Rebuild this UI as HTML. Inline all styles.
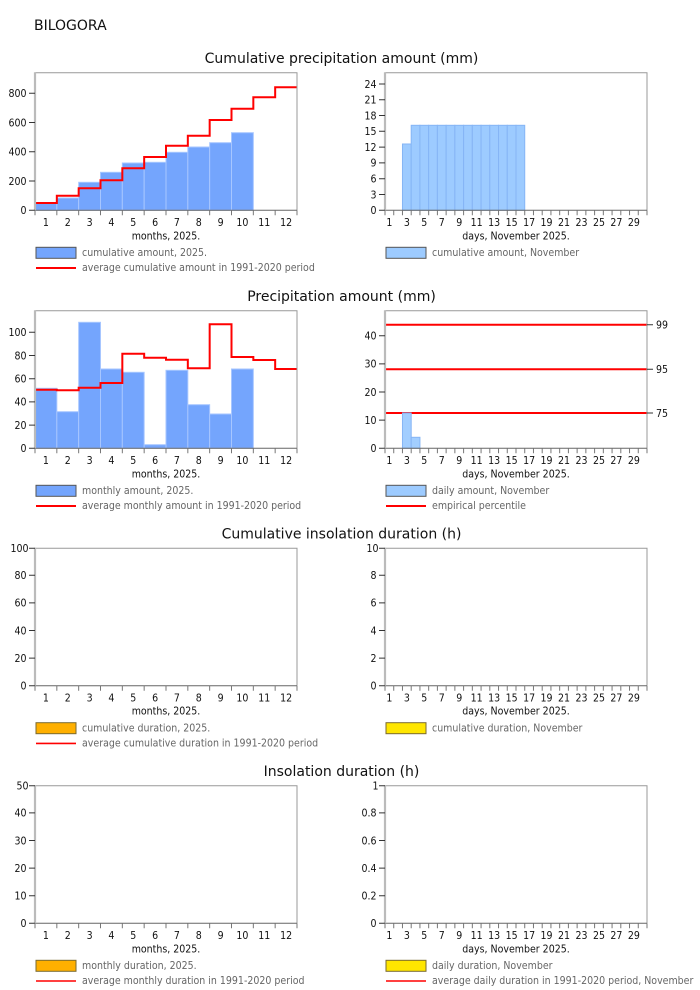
<!DOCTYPE html>
<html><head><meta charset="utf-8">
<style>
html,body{margin:0;padding:0;background:#fff}
svg{display:block}
.t{font-family:"DejaVu Sans","Liberation Sans",sans-serif;font-size:14px;fill:#111}
.s{font-family:"DejaVu Sans","Liberation Sans",sans-serif;font-stretch:condensed;font-size:10.5px;fill:#111}
.l{font-family:"DejaVu Sans","Liberation Sans",sans-serif;font-stretch:condensed;font-size:10.5px;fill:#666}
.e{text-anchor:end}
.c{text-anchor:middle}
</style></head><body>
<svg width="700" height="990" viewBox="0 0 700 990" xmlns="http://www.w3.org/2000/svg">
<rect width="700" height="990" fill="#fff"/>
<text class="t" x="34" y="30">BILOGORA</text>

<!-- ROW 1 -->
<text class="t c" x="341.5" y="63">Cumulative precipitation amount (mm)</text>
<g transform="translate(35,72.3)">
  <g fill="#74a5fd" stroke="#a7c6ff" stroke-width="1">
    <rect x="0" y="131" width="21.83" height="7"/>
    <rect x="21.83" y="125.7" width="21.83" height="12.3"/>
    <rect x="43.67" y="110" width="21.83" height="28"/>
    <rect x="65.5" y="100" width="21.83" height="38"/>
    <rect x="87.33" y="90.7" width="21.83" height="47.3"/>
    <rect x="109.17" y="90" width="21.83" height="48"/>
    <rect x="131" y="80" width="21.83" height="58"/>
    <rect x="152.83" y="74.7" width="21.83" height="63.3"/>
    <rect x="174.67" y="70.4" width="21.83" height="67.6"/>
    <rect x="196.5" y="60.4" width="21.83" height="77.6"/>
  </g>
  <path d="M0,130.7H21.83V123.4H43.67V116H65.5V108H87.33V96H109.17V84.7H131V73.4H152.83V63.4H174.67V47.7H196.5V36.4H218.33V25H240.17V15H262" fill="none" stroke="#f00" stroke-width="2"/>
  <path d="M0,0.5H262V138" fill="none" stroke="#999"/>
  <path d="M0,138H262" stroke="#666"/>
  <path d="M0,0V138" stroke="#bbb" stroke-width="2.2"/>
  <path d="M-6,138H0M-6,108.75H0M-6,79.5H0M-6,50.25H0M-6,21H0" stroke="#333"/>
  <path d="M0,138v5m21.833,-5v5m21.833,-5v5m21.833,-5v5m21.833,-5v5m21.833,-5v5m21.833,-5v5m21.833,-5v5m21.833,-5v5m21.833,-5v5m21.833,-5v5m21.833,-5v5m21.833,-5v5" stroke="#777"/>
  <text class="s e" x="-8.5" y="141.8">0</text>
  <text class="s e" x="-8.5" y="112.55">200</text>
  <text class="s e" x="-8.5" y="83.3">400</text>
  <text class="s e" x="-8.5" y="54.05">600</text>
  <text class="s e" x="-8.5" y="24.8">800</text>
  <g class="s c">
    <text x="10.92" y="153.7">1</text><text x="32.75" y="153.7">2</text><text x="54.58" y="153.7">3</text><text x="76.42" y="153.7">4</text><text x="98.25" y="153.7">5</text><text x="120.08" y="153.7">6</text><text x="141.92" y="153.7">7</text><text x="163.75" y="153.7">8</text><text x="185.58" y="153.7">9</text><text x="207.42" y="153.7">10</text><text x="229.25" y="153.7">11</text><text x="251.08" y="153.7">12</text>
  </g>
  <text class="s c" x="131" y="167">months, 2025.</text>
  <rect x="1" y="175" width="40" height="11" fill="#74a5fd" stroke="#555"/>
  <text class="l" x="47" y="183.7">cumulative amount, 2025.</text>
  <path d="M1,195.7H41" stroke="#f00" stroke-width="2"/>
  <text class="l" x="47" y="198.7">average cumulative amount in 1991-2020 period</text>
</g>

<g transform="translate(385,72.3)">
  <g fill="#9dcbff" stroke="#86b5f5" stroke-width="1">
    <rect x="17.47" y="71.7" width="8.73" height="66.3"/>
    <rect x="26.2" y="53" width="8.73" height="85"/>
    <rect x="34.93" y="53" width="8.73" height="85"/>
    <rect x="43.67" y="53" width="8.73" height="85"/>
    <rect x="52.4" y="53" width="8.73" height="85"/>
    <rect x="61.13" y="53" width="8.73" height="85"/>
    <rect x="69.87" y="53" width="8.73" height="85"/>
    <rect x="78.6" y="53" width="8.73" height="85"/>
    <rect x="87.33" y="53" width="8.73" height="85"/>
    <rect x="96.07" y="53" width="8.73" height="85"/>
    <rect x="104.8" y="53" width="8.73" height="85"/>
    <rect x="113.53" y="53" width="8.73" height="85"/>
    <rect x="122.27" y="53" width="8.73" height="85"/>
    <rect x="131" y="53" width="8.73" height="85"/>
  </g>
  <path d="M0,0.5H262V138" fill="none" stroke="#999"/>
  <path d="M0,138H262" stroke="#666"/>
  <path d="M0,0V138" stroke="#bbb" stroke-width="2.2"/>
  <path d="M-6,138H0M-6,122.2H0M-6,106.4H0M-6,90.6H0M-6,74.8H0M-6,59H0M-6,43.2H0M-6,27.5H0M-6,11.7H0" stroke="#333"/>
  <path d="M0,138v5m8.7333,-5v5m8.7333,-5v5m8.7333,-5v5m8.7333,-5v5m8.7333,-5v5m8.7333,-5v5m8.7333,-5v5m8.7333,-5v5m8.7333,-5v5m8.7333,-5v5m8.7333,-5v5m8.7333,-5v5m8.7333,-5v5m8.7333,-5v5m8.7333,-5v5m8.7333,-5v5m8.7333,-5v5m8.7333,-5v5m8.7333,-5v5m8.7333,-5v5m8.7333,-5v5m8.7333,-5v5m8.7333,-5v5m8.7333,-5v5m8.7333,-5v5m8.7333,-5v5m8.7333,-5v5m8.7333,-5v5m8.7333,-5v5m8.7333,-5v5" stroke="#777"/>
  <text class="s e" x="-8.5" y="141.8">0</text>
  <text class="s e" x="-8.5" y="126">3</text>
  <text class="s e" x="-8.5" y="110.2">6</text>
  <text class="s e" x="-8.5" y="94.4">9</text>
  <text class="s e" x="-8.5" y="78.6">12</text>
  <text class="s e" x="-8.5" y="62.8">15</text>
  <text class="s e" x="-8.5" y="47">18</text>
  <text class="s e" x="-8.5" y="31.3">21</text>
  <text class="s e" x="-8.5" y="15.5">24</text>
  <g class="s c">
    <text x="4.37" y="153.7">1</text><text x="21.83" y="153.7">3</text><text x="39.3" y="153.7">5</text><text x="56.77" y="153.7">7</text><text x="74.23" y="153.7">9</text><text x="91.7" y="153.7">11</text><text x="109.17" y="153.7">13</text><text x="126.63" y="153.7">15</text><text x="144.1" y="153.7">17</text><text x="161.57" y="153.7">19</text><text x="179.03" y="153.7">21</text><text x="196.5" y="153.7">23</text><text x="213.97" y="153.7">25</text><text x="231.43" y="153.7">27</text><text x="248.9" y="153.7">29</text>
  </g>
  <text class="s c" x="131" y="167">days, November 2025.</text>
  <rect x="1" y="175" width="40" height="11" fill="#9dcbff" stroke="#555"/>
  <text class="l" x="47" y="183.7">cumulative amount, November</text>
</g>

<!-- ROW 2 -->
<text class="t c" x="341.5" y="301">Precipitation amount (mm)</text>
<g transform="translate(35,310.3)">
  <g fill="#74a5fd" stroke="#a7c6ff" stroke-width="1">
    <rect x="0" y="78" width="21.83" height="60"/>
    <rect x="21.83" y="101.4" width="21.83" height="36.6"/>
    <rect x="43.67" y="12" width="21.83" height="126"/>
    <rect x="65.5" y="58.7" width="21.83" height="79.3"/>
    <rect x="87.33" y="62" width="21.83" height="76"/>
    <rect x="109.17" y="134.4" width="21.83" height="3.6"/>
    <rect x="131" y="60" width="21.83" height="78"/>
    <rect x="152.83" y="94.4" width="21.83" height="43.6"/>
    <rect x="174.67" y="103.7" width="21.83" height="34.3"/>
    <rect x="196.5" y="58.7" width="21.83" height="79.3"/>
  </g>
  <path d="M0,79.4H21.83V80H43.67V77.4H65.5V72.7H87.33V43.4H109.17V47.4H131V49.4H152.83V58H174.67V14H196.5V46.7H218.33V49.7H240.17V58.7H262" fill="none" stroke="#f00" stroke-width="2"/>
  <path d="M0,0.5H262V138" fill="none" stroke="#999"/>
  <path d="M0,138H262" stroke="#666"/>
  <path d="M0,0V138" stroke="#bbb" stroke-width="2.2"/>
  <path d="M-6,138H0M-6,114.8H0M-6,91.6H0M-6,68.4H0M-6,45.2H0M-6,22H0" stroke="#333"/>
  <path d="M0,138v5m21.833,-5v5m21.833,-5v5m21.833,-5v5m21.833,-5v5m21.833,-5v5m21.833,-5v5m21.833,-5v5m21.833,-5v5m21.833,-5v5m21.833,-5v5m21.833,-5v5m21.833,-5v5" stroke="#777"/>
  <text class="s e" x="-8.5" y="141.8">0</text>
  <text class="s e" x="-8.5" y="118.6">20</text>
  <text class="s e" x="-8.5" y="95.4">40</text>
  <text class="s e" x="-8.5" y="72.2">60</text>
  <text class="s e" x="-8.5" y="49">80</text>
  <text class="s e" x="-8.5" y="25.8">100</text>
  <g class="s c">
    <text x="10.92" y="153.7">1</text><text x="32.75" y="153.7">2</text><text x="54.58" y="153.7">3</text><text x="76.42" y="153.7">4</text><text x="98.25" y="153.7">5</text><text x="120.08" y="153.7">6</text><text x="141.92" y="153.7">7</text><text x="163.75" y="153.7">8</text><text x="185.58" y="153.7">9</text><text x="207.42" y="153.7">10</text><text x="229.25" y="153.7">11</text><text x="251.08" y="153.7">12</text>
  </g>
  <text class="s c" x="131" y="167">months, 2025.</text>
  <rect x="1" y="175" width="40" height="11" fill="#74a5fd" stroke="#555"/>
  <text class="l" x="47" y="183.7">monthly amount, 2025.</text>
  <path d="M1,195.7H41" stroke="#f00" stroke-width="2"/>
  <text class="l" x="47" y="198.7">average monthly amount in 1991-2020 period</text>
</g>

<g transform="translate(385,310.3)">
  <path d="M0,14.4H262M0,59H262M0,102.7H262" stroke="#f00" stroke-width="2"/>
  <g fill="#9dcbff" stroke="#86b5f5" stroke-width="1" fill-opacity="0.95">
    <rect x="17.47" y="102.7" width="8.73" height="35.3"/>
    <rect x="26.2" y="127" width="8.73" height="11"/>
  </g>
  <path d="M0,0.5H262V138" fill="none" stroke="#999"/>
  <path d="M0,138H262" stroke="#666"/>
  <path d="M0,0V138" stroke="#bbb" stroke-width="2.2"/>
  <path d="M-6,138H0M-6,109.85H0M-6,81.7H0M-6,53.55H0M-6,25.4H0" stroke="#333"/>
  <path d="M262,14.4H268M262,59H268M262,102.7H268" stroke="#333"/>
  <path d="M0,138v5m8.7333,-5v5m8.7333,-5v5m8.7333,-5v5m8.7333,-5v5m8.7333,-5v5m8.7333,-5v5m8.7333,-5v5m8.7333,-5v5m8.7333,-5v5m8.7333,-5v5m8.7333,-5v5m8.7333,-5v5m8.7333,-5v5m8.7333,-5v5m8.7333,-5v5m8.7333,-5v5m8.7333,-5v5m8.7333,-5v5m8.7333,-5v5m8.7333,-5v5m8.7333,-5v5m8.7333,-5v5m8.7333,-5v5m8.7333,-5v5m8.7333,-5v5m8.7333,-5v5m8.7333,-5v5m8.7333,-5v5m8.7333,-5v5m8.7333,-5v5" stroke="#777"/>
  <text class="s e" x="-8.5" y="141.8">0</text>
  <text class="s e" x="-8.5" y="113.65">10</text>
  <text class="s e" x="-8.5" y="85.5">20</text>
  <text class="s e" x="-8.5" y="57.35">30</text>
  <text class="s e" x="-8.5" y="29.2">40</text>
  <text class="s" x="271" y="18.2">99</text>
  <text class="s" x="271" y="62.8">95</text>
  <text class="s" x="271" y="106.5">75</text>
  <g class="s c">
    <text x="4.37" y="153.7">1</text><text x="21.83" y="153.7">3</text><text x="39.3" y="153.7">5</text><text x="56.77" y="153.7">7</text><text x="74.23" y="153.7">9</text><text x="91.7" y="153.7">11</text><text x="109.17" y="153.7">13</text><text x="126.63" y="153.7">15</text><text x="144.1" y="153.7">17</text><text x="161.57" y="153.7">19</text><text x="179.03" y="153.7">21</text><text x="196.5" y="153.7">23</text><text x="213.97" y="153.7">25</text><text x="231.43" y="153.7">27</text><text x="248.9" y="153.7">29</text>
  </g>
  <text class="s c" x="131" y="167">days, November 2025.</text>
  <rect x="1" y="175" width="40" height="11" fill="#9dcbff" stroke="#555"/>
  <text class="l" x="47" y="183.7">daily amount, November</text>
  <path d="M1,195.7H41" stroke="#f00" stroke-width="2"/>
  <text class="l" x="47" y="198.7">empirical percentile</text>
</g>

<!-- ROW 3 -->
<text class="t c" x="341.5" y="538.3">Cumulative insolation duration (h)</text>
<g transform="translate(35,547.7)">
  <path d="M0,0.5H262V138" fill="none" stroke="#999"/>
  <path d="M0,138H262" stroke="#666"/>
  <path d="M0,0V138" stroke="#bbb" stroke-width="2.2"/>
  <path d="M-6,138H0M-6,110.4H0M-6,82.8H0M-6,55.2H0M-6,27.6H0M-6,0.5H0" stroke="#333"/>
  <path d="M0,138v5m21.833,-5v5m21.833,-5v5m21.833,-5v5m21.833,-5v5m21.833,-5v5m21.833,-5v5m21.833,-5v5m21.833,-5v5m21.833,-5v5m21.833,-5v5m21.833,-5v5m21.833,-5v5" stroke="#777"/>
  <text class="s e" x="-8.5" y="141.8">0</text>
  <text class="s e" x="-8.5" y="114.2">20</text>
  <text class="s e" x="-8.5" y="86.6">40</text>
  <text class="s e" x="-8.5" y="59">60</text>
  <text class="s e" x="-8.5" y="31.4">80</text>
  <text class="s e" x="-6.5" y="4.3">100</text>
  <g class="s c">
    <text x="10.92" y="153.7">1</text><text x="32.75" y="153.7">2</text><text x="54.58" y="153.7">3</text><text x="76.42" y="153.7">4</text><text x="98.25" y="153.7">5</text><text x="120.08" y="153.7">6</text><text x="141.92" y="153.7">7</text><text x="163.75" y="153.7">8</text><text x="185.58" y="153.7">9</text><text x="207.42" y="153.7">10</text><text x="229.25" y="153.7">11</text><text x="251.08" y="153.7">12</text>
  </g>
  <text class="s c" x="131" y="167">months, 2025.</text>
  <rect x="1" y="175" width="40" height="11" fill="#ffb000" stroke="#7a6a30"/>
  <text class="l" x="47" y="183.7">cumulative duration, 2025.</text>
  <path d="M1,195.7H41" stroke="#f00" stroke-width="1.6"/>
  <text class="l" x="47" y="198.7">average cumulative duration in 1991-2020 period</text>
</g>

<g transform="translate(385,547.7)">
  <path d="M0,0.5H262V138" fill="none" stroke="#999"/>
  <path d="M0,138H262" stroke="#666"/>
  <path d="M0,0V138" stroke="#bbb" stroke-width="2.2"/>
  <path d="M-6,138H0M-6,110.4H0M-6,82.8H0M-6,55.2H0M-6,27.6H0M-6,0.5H0" stroke="#333"/>
  <path d="M0,138v5m8.7333,-5v5m8.7333,-5v5m8.7333,-5v5m8.7333,-5v5m8.7333,-5v5m8.7333,-5v5m8.7333,-5v5m8.7333,-5v5m8.7333,-5v5m8.7333,-5v5m8.7333,-5v5m8.7333,-5v5m8.7333,-5v5m8.7333,-5v5m8.7333,-5v5m8.7333,-5v5m8.7333,-5v5m8.7333,-5v5m8.7333,-5v5m8.7333,-5v5m8.7333,-5v5m8.7333,-5v5m8.7333,-5v5m8.7333,-5v5m8.7333,-5v5m8.7333,-5v5m8.7333,-5v5m8.7333,-5v5m8.7333,-5v5m8.7333,-5v5" stroke="#777"/>
  <text class="s e" x="-8.5" y="141.8">0</text>
  <text class="s e" x="-8.5" y="114.2">2</text>
  <text class="s e" x="-8.5" y="86.6">4</text>
  <text class="s e" x="-8.5" y="59">6</text>
  <text class="s e" x="-8.5" y="31.4">8</text>
  <text class="s e" x="-6.5" y="4.3">10</text>
  <g class="s c">
    <text x="4.37" y="153.7">1</text><text x="21.83" y="153.7">3</text><text x="39.3" y="153.7">5</text><text x="56.77" y="153.7">7</text><text x="74.23" y="153.7">9</text><text x="91.7" y="153.7">11</text><text x="109.17" y="153.7">13</text><text x="126.63" y="153.7">15</text><text x="144.1" y="153.7">17</text><text x="161.57" y="153.7">19</text><text x="179.03" y="153.7">21</text><text x="196.5" y="153.7">23</text><text x="213.97" y="153.7">25</text><text x="231.43" y="153.7">27</text><text x="248.9" y="153.7">29</text>
  </g>
  <text class="s c" x="131" y="167">days, November 2025.</text>
  <rect x="1" y="175" width="40" height="11" fill="#ffe600" stroke="#7a6a30"/>
  <text class="l" x="47" y="183.7">cumulative duration, November</text>
</g>

<!-- ROW 4 -->
<text class="t c" x="341.5" y="776">Insolation duration (h)</text>
<g transform="translate(35,785.3)">
  <path d="M0,0.5H262V138" fill="none" stroke="#999"/>
  <path d="M0,138H262" stroke="#666"/>
  <path d="M0,0V138" stroke="#bbb" stroke-width="2.2"/>
  <path d="M-6,138H0M-6,110.4H0M-6,82.8H0M-6,55.2H0M-6,27.6H0M-6,0.5H0" stroke="#333"/>
  <path d="M0,138v5m21.833,-5v5m21.833,-5v5m21.833,-5v5m21.833,-5v5m21.833,-5v5m21.833,-5v5m21.833,-5v5m21.833,-5v5m21.833,-5v5m21.833,-5v5m21.833,-5v5m21.833,-5v5" stroke="#777"/>
  <text class="s e" x="-8.5" y="141.8">0</text>
  <text class="s e" x="-8.5" y="114.2">10</text>
  <text class="s e" x="-8.5" y="86.6">20</text>
  <text class="s e" x="-8.5" y="59">30</text>
  <text class="s e" x="-8.5" y="31.4">40</text>
  <text class="s e" x="-6.5" y="4.3">50</text>
  <g class="s c">
    <text x="10.92" y="153.7">1</text><text x="32.75" y="153.7">2</text><text x="54.58" y="153.7">3</text><text x="76.42" y="153.7">4</text><text x="98.25" y="153.7">5</text><text x="120.08" y="153.7">6</text><text x="141.92" y="153.7">7</text><text x="163.75" y="153.7">8</text><text x="185.58" y="153.7">9</text><text x="207.42" y="153.7">10</text><text x="229.25" y="153.7">11</text><text x="251.08" y="153.7">12</text>
  </g>
  <text class="s c" x="131" y="167">months, 2025.</text>
  <rect x="1" y="175" width="40" height="11" fill="#ffb000" stroke="#7a6a30"/>
  <text class="l" x="47" y="183.7">monthly duration, 2025.</text>
  <path d="M1,195.7H41" stroke="#f00" stroke-width="1.6"/>
  <text class="l" x="47" y="198.7">average monthly duration in 1991-2020 period</text>
</g>

<g transform="translate(385,785.3)">
  <path d="M0,0.5H262V138" fill="none" stroke="#999"/>
  <path d="M0,138H262" stroke="#666"/>
  <path d="M0,0V138" stroke="#bbb" stroke-width="2.2"/>
  <path d="M-6,138H0M-6,110.4H0M-6,82.8H0M-6,55.2H0M-6,27.6H0M-6,0.5H0" stroke="#333"/>
  <path d="M0,138v5m8.7333,-5v5m8.7333,-5v5m8.7333,-5v5m8.7333,-5v5m8.7333,-5v5m8.7333,-5v5m8.7333,-5v5m8.7333,-5v5m8.7333,-5v5m8.7333,-5v5m8.7333,-5v5m8.7333,-5v5m8.7333,-5v5m8.7333,-5v5m8.7333,-5v5m8.7333,-5v5m8.7333,-5v5m8.7333,-5v5m8.7333,-5v5m8.7333,-5v5m8.7333,-5v5m8.7333,-5v5m8.7333,-5v5m8.7333,-5v5m8.7333,-5v5m8.7333,-5v5m8.7333,-5v5m8.7333,-5v5m8.7333,-5v5m8.7333,-5v5" stroke="#777"/>
  <text class="s e" x="-8.5" y="141.8">0</text>
  <text class="s e" x="-8.5" y="114.2">0.2</text>
  <text class="s e" x="-8.5" y="86.6">0.4</text>
  <text class="s e" x="-8.5" y="59">0.6</text>
  <text class="s e" x="-8.5" y="31.4">0.8</text>
  <text class="s e" x="-6.5" y="4.3">1</text>
  <g class="s c">
    <text x="4.37" y="153.7">1</text><text x="21.83" y="153.7">3</text><text x="39.3" y="153.7">5</text><text x="56.77" y="153.7">7</text><text x="74.23" y="153.7">9</text><text x="91.7" y="153.7">11</text><text x="109.17" y="153.7">13</text><text x="126.63" y="153.7">15</text><text x="144.1" y="153.7">17</text><text x="161.57" y="153.7">19</text><text x="179.03" y="153.7">21</text><text x="196.5" y="153.7">23</text><text x="213.97" y="153.7">25</text><text x="231.43" y="153.7">27</text><text x="248.9" y="153.7">29</text>
  </g>
  <text class="s c" x="131" y="167">days, November 2025.</text>
  <rect x="1" y="175" width="40" height="11" fill="#ffe600" stroke="#7a6a30"/>
  <text class="l" x="47" y="183.7">daily duration, November</text>
  <path d="M1,195.7H41" stroke="#f00" stroke-width="1.6"/>
  <text class="l" x="47" y="198.7">average daily duration in 1991-2020 period, November</text>
</g>
</svg>
</body></html>
